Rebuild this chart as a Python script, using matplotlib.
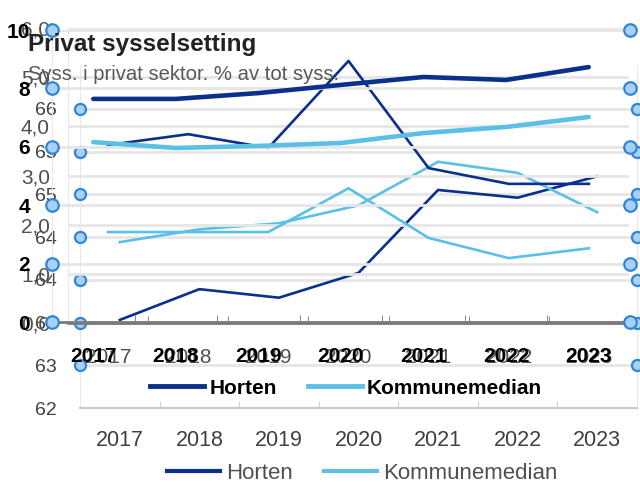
import matplotlib.pyplot as plt
from matplotlib.lines import Line2D

years = ['2017', '2018', '2019', '2020', '2021', '2022', '2023']

# bakerste diagram, skala 62-66
horten_c = [63.03, 63.39, 63.29, 63.58, 64.55, 64.46, 64.71]
median_c = [63.94, 64.09, 64.16, 64.37, 64.88, 64.75, 64.29]
ticks_c = [62, 62.5, 63, 63.5, 64, 64.5, 65, 65.5]
labels_c = ['62', '63', '63', '64', '64', '65', '65', '66']

# midterste diagram, skala 0,0-6,0
horten_b = [3.62, 3.84, 3.56, 5.33, 3.15, 2.83, 2.83]
median_b = [1.85, 1.85, 1.85, 2.74, 1.73, 1.32, 1.52]
ticks_b = [0, 1, 2, 3, 4, 5, 6]
labels_b = ['0,0', '1,0', '2,0', '3,0', '4,0', '5,0', '6,0']

# fremste diagram, skala 0-10
horten_a = [7.64, 7.64, 7.84, 8.12, 8.39, 8.29, 8.73]
median_a = [6.16, 5.96, 6.03, 6.13, 6.47, 6.68, 7.02]
ticks_a = [0, 2, 4, 6, 8, 10]

DARK = '#0B2F8C'
LIGHT = '#5BC0E6'
GRID = '#E6E6E6'
FONT = ['Liberation Sans', 'DejaVu Sans']

W, H = 640, 486


def box(x0, y0, x1, y1):
    # pikselkoordinater (topp-venstre) -> figurkoordinater
    return [x0 / W, 1 - y1 / H, (x1 - x0) / W, (y1 - y0) / H]


def handles(ax, vals, size):
    tr = ax.get_yaxis_transform()
    for xx in (0, 1):
        ax.plot([xx] * len(vals), vals, 'o', transform=tr, clip_on=False,
                ms=size, mfc='#A9D1F5', mec='#2F86D8', mew=1.6, zorder=20)


def setup_x(ax, n):
    ax.set_xlim(-0.5, n - 0.5)
    ax.set_xticks(range(n))
    ax.set_xticks([i - 0.5 for i in range(n + 1)], minor=True)
    ax.tick_params(axis='x', which='major', length=0)
    ax.tick_params(axis='x', which='minor', length=5, direction='in')


fig = plt.figure(figsize=(6.4, 4.86), dpi=100)
fig.patch.set_facecolor('white')
n = len(years)

# --- diagram C (bakerst) ---
axc = fig.add_axes(box(80, 66, 637, 408))
axc.plot(range(n), horten_c, color=DARK, lw=1.9)
axc.plot(range(n), median_c, color=LIGHT, lw=1.9)
axc.set_ylim(62, 66)
axc.set_yticks(ticks_c)
axc.set_yticklabels(labels_c, family=FONT, fontsize=14, color='#404040')
axc.tick_params(axis='y', length=0, pad=17)
setup_x(axc, n)
axc.set_xticklabels(years, family=FONT, fontsize=15.5, color='#404040')
axc.tick_params(axis='x', which='major', pad=16)
axc.tick_params(axis='x', which='minor', color='#C8C8C8')
axc.grid(axis='y', color=GRID, lw=2)
axc.set_axisbelow(True)
axc.spines['top'].set_visible(False)
for s in ('left', 'right'):
    axc.spines[s].set_color('#E8E8E8')
axc.spines['bottom'].set_color('#C8C8C8')
axc.spines['bottom'].set_linewidth(1.5)
handles(axc, ticks_c[1:], 8)

# --- diagram B (midten) ---
axb = fig.add_axes(box(68, 28, 629, 323))
axb.patch.set_alpha(0)
axb.plot(range(n), horten_b, color=DARK, lw=1.9)
axb.plot(range(n), median_b, color=LIGHT, lw=1.9)
axb.set_ylim(0, 6)
axb.set_yticks(ticks_b)
axb.set_yticklabels(labels_b, family=FONT, fontsize=15, color='#505050')
axb.tick_params(axis='y', length=0, pad=13)
setup_x(axb, n)
axb.set_xticklabels(years, family=FONT, fontsize=15, color='#505050')
axb.tick_params(axis='x', which='major', pad=18)
axb.tick_params(axis='x', which='minor', color='#707070')
axb.grid(axis='y', color=GRID, lw=2)
axb.spines['right'].set_visible(False)
for s in ('left', 'top'):
    axb.spines[s].set_color('#E8E8E8')
axb.spines['bottom'].set_color('#7A7A7A')
axb.spines['bottom'].set_linewidth(2)

# --- diagram A (fremst) ---
axa = fig.add_axes(box(52, 30, 630, 322))
axa.patch.set_alpha(0)
axa.plot(range(n), horten_a, color=DARK, lw=3.3, solid_capstyle='round')
axa.plot(range(n), median_a, color=LIGHT, lw=3.3, solid_capstyle='round')
axa.set_ylim(0, 10)
axa.set_yticks(ticks_a)
axa.set_yticklabels([str(t) for t in ticks_a], family=FONT, fontsize=15,
                    fontweight='bold', color='black')
axa.tick_params(axis='y', length=0, pad=16)
setup_x(axa, n)
axa.set_xticklabels(years, family=FONT, fontsize=15, fontweight='bold',
                    color='black')
axa.tick_params(axis='x', which='major', pad=18)
axa.tick_params(axis='x', which='minor', color='#707070')
axa.grid(axis='y', color=GRID, lw=2)
axa.spines['top'].set_visible(False)
axa.spines['right'].set_visible(False)
axa.spines['left'].set_color('#E8E8E8')
axa.spines['bottom'].set_color('#7A7A7A')
axa.spines['bottom'].set_linewidth(2)
handles(axa, ticks_a, 9)

# tittel og undertittel
fig.text(28 / W, 1 - 45 / H, 'Privat sysselsetting', family=FONT,
         fontsize=17.5, fontweight='bold', color='#222222', va='center')
fig.text(28 / W, 1 - 75 / H, 'Syss. i privat sektor. % av tot syss.',
         family=FONT, fontsize=14.6, color='#595959', va='center')

# tegnforklaringer
leg_a = [Line2D([], [], color=DARK, lw=3.5), Line2D([], [], color=LIGHT, lw=3.5)]
fig.legend(leg_a, ['Horten', 'Kommunemedian'], loc='center',
           bbox_to_anchor=(346 / W, 1 - 388 / H), ncol=2, frameon=False,
           handlelength=2.6, handletextpad=0.25, columnspacing=1.5,
           prop={'family': FONT, 'size': 15, 'weight': 'bold'})
leg_c = [Line2D([], [], color=DARK, lw=3), Line2D([], [], color=LIGHT, lw=3)]
lg = fig.legend(leg_c, ['Horten', 'Kommunemedian'], loc='center',
                bbox_to_anchor=(362 / W, 1 - 473 / H), ncol=2, frameon=False,
                handlelength=2.4, handletextpad=0.25, columnspacing=1.4,
                prop={'family': FONT, 'size': 16})
for t in lg.get_texts():
    t.set_color('#505050')

fig.savefig('out.png', dpi=100)
